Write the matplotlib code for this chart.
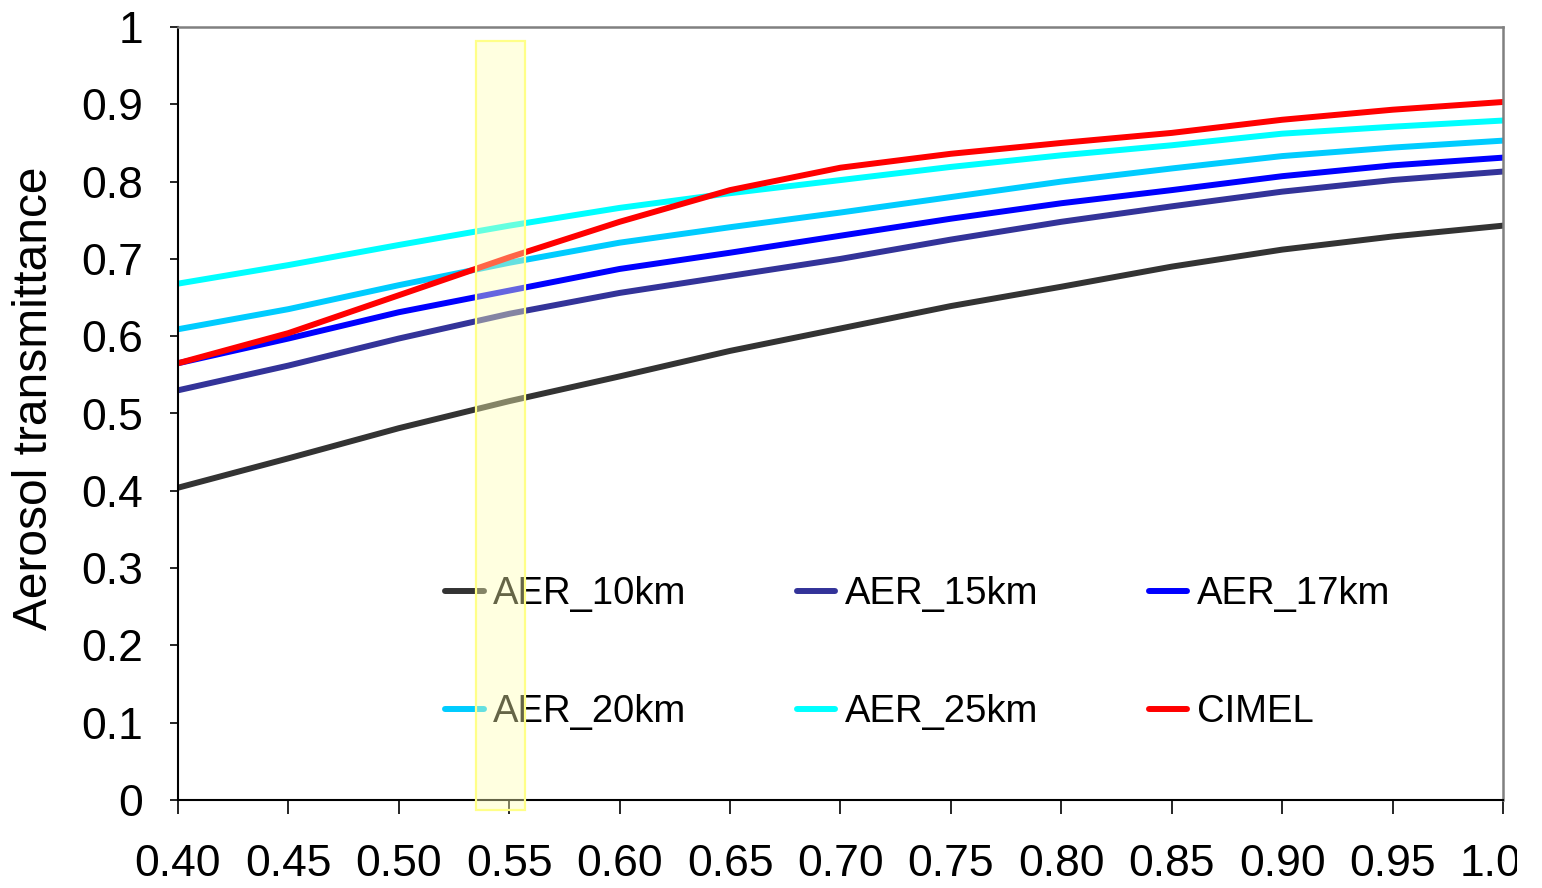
import matplotlib
matplotlib.use("Agg")
import matplotlib.pyplot as plt
from matplotlib.patches import Rectangle
from matplotlib.transforms import Bbox, TransformedBbox

plt.rcParams['font.family'] = ['Liberation Sans', 'DejaVu Sans']

wavelength = [0.40, 0.45, 0.50, 0.55, 0.60, 0.65, 0.70, 0.75, 0.80, 0.85, 0.90, 0.95, 1.00]
aer_10km = [0.404, 0.442, 0.481, 0.516, 0.548, 0.581, 0.610, 0.639, 0.664, 0.690, 0.712, 0.729, 0.743]
aer_15km = [0.530, 0.562, 0.597, 0.629, 0.656, 0.678, 0.700, 0.725, 0.748, 0.768, 0.787, 0.802, 0.813]
aer_17km = [0.565, 0.597, 0.631, 0.659, 0.687, 0.708, 0.730, 0.752, 0.772, 0.789, 0.807, 0.821, 0.831]
aer_20km = [0.609, 0.635, 0.666, 0.695, 0.721, 0.741, 0.760, 0.780, 0.800, 0.817, 0.833, 0.844, 0.853]
aer_25km = [0.668, 0.692, 0.718, 0.743, 0.766, 0.785, 0.802, 0.819, 0.834, 0.847, 0.862, 0.871, 0.879]
cimel = [0.565, 0.604, 0.653, 0.702, 0.748, 0.789, 0.818, 0.836, 0.850, 0.863, 0.880, 0.893, 0.903]

series_names = ['AER_10km', 'AER_15km', 'AER_17km', 'AER_20km', 'AER_25km', 'CIMEL']
series_values = [aer_10km, aer_15km, aer_17km, aer_20km, aer_25km, cimel]
series_colors = ['#333333', '#333399', '#0000FF', '#00CCFF', '#00FFFF', '#FF0000']

x_ticks = [0.40, 0.45, 0.50, 0.55, 0.60, 0.65, 0.70, 0.75, 0.80, 0.85, 0.90, 0.95, 1.00]
y_ticks = [0, 0.1, 0.2, 0.3, 0.4, 0.5, 0.6, 0.7, 0.8, 0.9, 1.0]
y_tick_labels = ['0', '0.1', '0.2', '0.3', '0.4', '0.5', '0.6', '0.7', '0.8', '0.9', '1']
band = (0.535, 0.557)

W, H = 1542, 888
fig = plt.figure(figsize=(W / 100, H / 100), dpi=100)
ax = fig.add_axes([178 / W, 1 - 800 / H, (1503 - 178) / W, (800 - 27) / H])

handles = {}
for name, vals, col in zip(series_names, series_values, series_colors):
    ln, = ax.plot(wavelength, vals, color=col, lw=4.3, label=name,
                  solid_capstyle='round', solid_joinstyle='round')
    handles[name] = ln

ax.set_xlim(0.40, 1.00)
ax.set_ylim(0, 1)
ax.set_xticks(x_ticks)
ax.set_xticklabels([f"{v:.2f}" for v in x_ticks])
ax.set_yticks(y_ticks)
ax.set_yticklabels(y_tick_labels)
ax.tick_params(axis='x', direction='out', length=10, width=1.2, pad=22, labelsize=32)
ax.tick_params(axis='y', direction='out', length=6, width=1.2, pad=19, labelsize=32)

for side in ['left', 'bottom']:
    ax.spines[side].set_color('black')
    ax.spines[side].set_linewidth(1.5)
for side in ['top', 'right']:
    ax.spines[side].set_color('#808080')
    ax.spines[side].set_linewidth(1.8)

ax.set_ylabel('Aerosol transmittance', fontsize=34.5)
ax.yaxis.set_label_coords((57 - 178) / 1325, (800 - 398) / 773)

order = ['AER_10km', 'AER_20km', 'AER_15km', 'AER_25km', 'AER_17km', 'CIMEL']
leg = ax.legend([handles[n] for n in order], order, ncol=3, frameon=False,
                fontsize=27.5, handlelength=1.0, handletextpad=0.25,
                columnspacing=2.9, labelspacing=2.15,
                loc='upper left', bbox_to_anchor=((411 - 178) / 1325, (800 - 542) / 773))

rect = Rectangle((band[0], -0.013), band[1] - band[0], 0.995,
                 facecolor=(1, 1, 0.7), alpha=0.4, edgecolor='none',
                 clip_on=False, zorder=10)
ax.add_patch(rect)
rect_edge = Rectangle((band[0], -0.013), band[1] - band[0], 0.995,
                      facecolor='none', edgecolor='#FFFF88', lw=1.6,
                      clip_on=False, zorder=11)
ax.add_patch(rect_edge)

fig.canvas.draw()
last = ax.get_xticklabels()[-1]
last.set_clip_box(TransformedBbox(Bbox([[0, 0], [1517 / W, 1]]), fig.transFigure))
last.set_clip_on(True)

fig.savefig('out.png', dpi=100)
